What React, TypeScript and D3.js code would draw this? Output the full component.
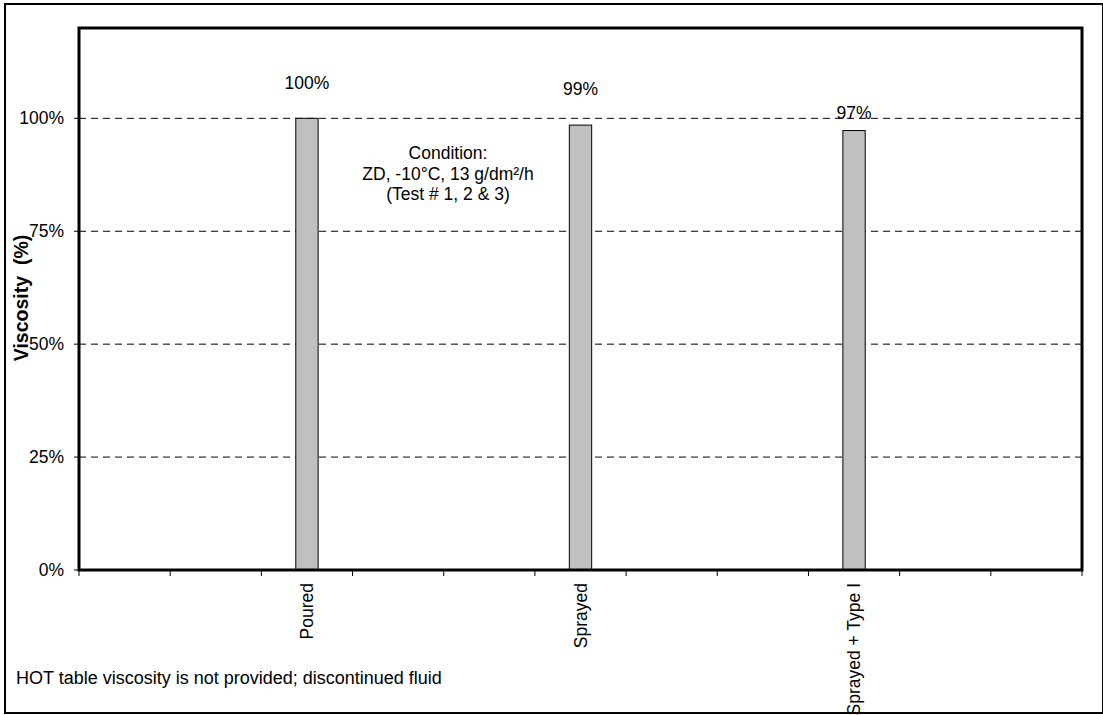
import React from "react";
import * as d3 from "d3";

const categories: string[] = ["c0", "c1", "Poured", "c3", "c4", "Sprayed", "c6", "c7", "Sprayed + Type I", "c9", "c10"];
const shownLabels: string[] = ["", "", "Poured", "", "", "Sprayed", "", "", "Sprayed + Type I", "", ""];
const values: (number | null)[] = [null, null, 100, null, null, 98.5, null, null, 97.3, null, null];
const valueLabels: string[] = ["", "", "100%", "", "", "99%", "", "", "97%", "", ""];
const yTicks: number[] = [0, 25, 50, 75, 100];
const gridTicks: number[] = [25, 50, 75, 100];
const conditionLines: string[] = ["Condition:", "ZD, -10°C, 13 g/dm²/h", "(Test # 1, 2 & 3)"];
const footnote = "HOT table viscosity is not provided; discontinued fluid";
const yTitle = "Viscosity  (%)";

const W = 1103;
const H = 715;
const M = { left: 79, top: 28, right: 1082, bottom: 570 };
const FONT = "'Liberation Sans', Arial, sans-serif";

export default function App() {
  const x = d3.scaleBand<string>().domain(categories).range([M.left, M.right]).padding(0);
  const y = d3.scaleLinear().domain([0, 120]).range([M.bottom, M.top]);
  const bw = x.bandwidth();
  const barW = bw * 0.245;
  const labelOffsets = [0, 0, -35, 0, 0, -36, 0, 0, -18, 0, 0];
  const boundaries = d3.range(categories.length + 1).map((i) => M.left + i * bw);

  return (
    <svg
      width={W}
      height={H}
      style={{ position: "absolute", left: 0, top: 0, background: "#fff" }}
      fontFamily={FONT}
    >
      <rect x={0} y={0} width={W} height={H} fill="#fff" />
      {/* outer border */}
      <rect x={5} y={4} width={1098} height={709} fill="none" stroke="#000" strokeWidth={2} />

      {/* gridlines */}
      {gridTicks.map((t) => (
        <line
          key={"g" + t}
          x1={M.left}
          x2={M.right}
          y1={y(t)}
          y2={y(t)}
          stroke="#000"
          strokeWidth={1}
          strokeDasharray="7,5"
        />
      ))}

      {/* y ticks and labels */}
      {yTicks.map((t) => (
        <g key={"y" + t}>
          <line x1={M.left - 5} x2={M.left} y1={y(t)} y2={y(t)} stroke="#000" strokeWidth={1} />
          <text x={64} y={y(t)} dy="0.35em" textAnchor="end" fontSize={17.5} fill="#000">
            {t + "%"}
          </text>
        </g>
      ))}

      {/* x ticks */}
      {boundaries.map((b, i) => (
        <line key={"xt" + i} x1={b} x2={b} y1={M.bottom} y2={M.bottom + 6} stroke="#000" strokeWidth={1} />
      ))}

      {/* bars */}
      {categories.map((c, i) =>
        values[i] == null ? null : (
          <rect
            key={"b" + c}
            x={(x(c) as number) + bw / 2 - barW / 2}
            y={y(values[i] as number)}
            width={barW}
            height={y(0) - y(values[i] as number)}
            fill="#c0c0c0"
            stroke="#000"
            strokeWidth={1}
          />
        )
      )}

      {/* value labels */}
      {categories.map((c, i) =>
        values[i] == null ? null : (
          <text
            key={"v" + c}
            x={(x(c) as number) + bw / 2}
            y={y(values[i] as number) + labelOffsets[i]}
            dy="0.35em"
            textAnchor="middle"
            fontSize={17.5}
            fill="#000"
          >
            {valueLabels[i]}
          </text>
        )
      )}

      {/* category labels */}
      {categories.map((c, i) =>
        shownLabels[i] ? (
          <text
            key={"c" + c}
            transform={`translate(${(x(c) as number) + bw / 2},${M.bottom + 13}) rotate(-90)`}
            dy="0.35em"
            textAnchor="end"
            fontSize={17.5}
            fill="#000"
          >
            {shownLabels[i]}
          </text>
        ) : null
      )}

      {/* plot border */}
      <rect
        x={M.left}
        y={M.top}
        width={M.right - M.left}
        height={M.bottom - M.top}
        fill="none"
        stroke="#000"
        strokeWidth={3}
      />

      {/* condition annotation */}
      <text x={448} y={153} textAnchor="middle" fontSize={17.5} fill="#000">
        {conditionLines.map((l, i) => (
          <tspan key={i} x={448} dy={i === 0 ? "0.35em" : 20.5}>
            {l}
          </tspan>
        ))}
      </text>

      {/* y title */}
      <text
        transform={`translate(21,298) rotate(-90)`}
        dy="0.35em"
        textAnchor="middle"
        fontSize={19.5}
        fontWeight="bold"
        fill="#000"
        style={{ whiteSpace: "pre" }}
      >
        {yTitle}
      </text>

      {/* footnote */}
      <text x={16} y={684} fontSize={18} fill="#000">
        {footnote}
      </text>
    </svg>
  );
}
